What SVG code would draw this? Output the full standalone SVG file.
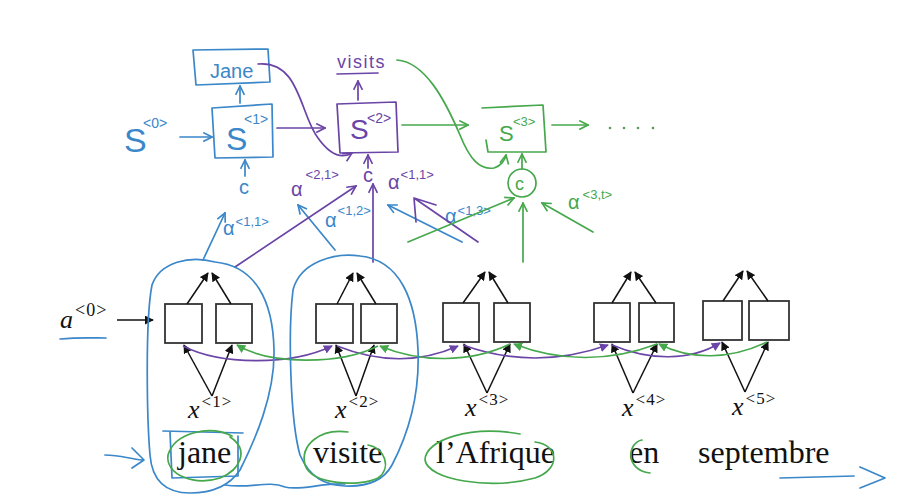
<svg xmlns="http://www.w3.org/2000/svg" width="904" height="498" viewBox="0 0 904 498">
<defs>
<style>
.bx{fill:#fff;stroke:#333;stroke-width:1.8}
.pl{fill:none;stroke:#111;stroke-width:1.5}
.pp{fill:none;stroke:#6a44a6;stroke-width:1.6}
.pg{fill:none;stroke:#46a84c;stroke-width:1.6}
.hb{fill:none;stroke:#3a87c9;stroke-width:1.7;stroke-linecap:round;stroke-linejoin:round}
.hp{fill:none;stroke:#6a44a6;stroke-width:1.7;stroke-linecap:round;stroke-linejoin:round}
.hg{fill:none;stroke:#46a84c;stroke-width:1.7;stroke-linecap:round;stroke-linejoin:round}
.ser{font-family:"Liberation Serif","DejaVu Serif",serif;fill:#111}
.xl{font-family:"Liberation Serif","DejaVu Serif",serif;font-size:26px;fill:#111}
.hw{font-family:"Liberation Sans","DejaVu Sans",sans-serif}
.tb{fill:#3a87c9}.tp{fill:#6a44a6}.tg{fill:#46a84c}
</style>
<marker id="ak" viewBox="0 0 10 10" refX="9" refY="5" markerWidth="9" markerHeight="9" markerUnits="userSpaceOnUse" orient="auto"><path d="M0,0 L10,5 L0,10 z" fill="#111"/></marker>
<marker id="apf" viewBox="0 0 10 10" refX="9" refY="5" markerWidth="9" markerHeight="9" markerUnits="userSpaceOnUse" orient="auto"><path d="M0,0 L10,5 L0,10 z" fill="#6a44a6"/></marker>
<marker id="agf" viewBox="0 0 10 10" refX="9" refY="5" markerWidth="9" markerHeight="9" markerUnits="userSpaceOnUse" orient="auto"><path d="M0,0 L10,5 L0,10 z" fill="#46a84c"/></marker>
<marker id="mb" viewBox="0 0 10 10" refX="9" refY="5" markerWidth="11" markerHeight="11" markerUnits="userSpaceOnUse" orient="auto"><path d="M1,1 L9,5 L1,9" fill="none" stroke="#3a87c9" stroke-width="1.5"/></marker>
<marker id="mp" viewBox="0 0 10 10" refX="9" refY="5" markerWidth="11" markerHeight="11" markerUnits="userSpaceOnUse" orient="auto"><path d="M1,1 L9,5 L1,9" fill="none" stroke="#6a44a6" stroke-width="1.5"/></marker>
<marker id="mg" viewBox="0 0 10 10" refX="9" refY="5" markerWidth="11" markerHeight="11" markerUnits="userSpaceOnUse" orient="auto"><path d="M1,1 L9,5 L1,9" fill="none" stroke="#46a84c" stroke-width="1.5"/></marker>
</defs>
<rect width="904" height="498" fill="#fff"/>

<!-- printed encoder -->
<g id="step1">
<rect class="bx" x="165" y="304" width="37" height="39"/><rect class="bx" x="216" y="304" width="36" height="39"/>
<text class="xl" x="188" y="418"><tspan font-style="italic">x</tspan><tspan dx="2" dy="-11" font-size="17" letter-spacing="1">&lt;1&gt;</tspan></text>
</g>
<g id="step2">
<rect class="bx" x="316" y="304" width="37" height="39"/><rect class="bx" x="361" y="304" width="36" height="39"/>
<text class="xl" x="335" y="418"><tspan font-style="italic">x</tspan><tspan dx="2" dy="-11" font-size="17" letter-spacing="1">&lt;2&gt;</tspan></text>
</g>
<g id="step3">
<rect class="bx" x="443" y="303" width="36" height="39"/><rect class="bx" x="494" y="303" width="36" height="39"/>
<text class="xl" x="465" y="416"><tspan font-style="italic">x</tspan><tspan dx="2" dy="-11" font-size="17" letter-spacing="1">&lt;3&gt;</tspan></text>
</g>
<g id="step4">
<rect class="bx" x="594" y="303" width="36" height="39"/><rect class="bx" x="639" y="303" width="35" height="39"/>
<text class="xl" x="622" y="416"><tspan font-style="italic">x</tspan><tspan dx="2" dy="-11" font-size="17" letter-spacing="1">&lt;4&gt;</tspan></text>
</g>
<g id="step5">
<rect class="bx" x="703" y="301" width="39" height="39"/><rect class="bx" x="749" y="301" width="40" height="39"/>
<text class="xl" x="732" y="415"><tspan font-style="italic">x</tspan><tspan dx="2" dy="-11" font-size="17" letter-spacing="1">&lt;5&gt;</tspan></text>
</g>
<g id="a0">
<text class="xl" x="60" y="328" font-size="28"><tspan font-style="italic">a</tspan><tspan dx="2" dy="-12" font-size="18" letter-spacing="1">&lt;0&gt;</tspan></text>
</g>
<g id="words" class="ser" font-size="32">
<text x="178" y="463">jane</text>
<text x="313" y="463">visite</text>
<text x="436" y="463">l’Afrique</text>
<text x="629" y="463">en</text>
<text x="698" y="463">septembre</text>
</g>

<!-- printed connectors -->
<g id="printed-connectors">
<path class="pl" marker-end="url(#ak)" d="M117 320 L153 320"/>
<path class="pl" marker-end="url(#ak)" d="M187 304 L208 273"/><path class="pl" marker-end="url(#ak)" d="M231 304 L212 273"/>
<path class="pl" marker-end="url(#ak)" d="M212 396 L184 345"/><path class="pl" marker-end="url(#ak)" d="M212 396 L232 345"/>
<path class="pl" marker-end="url(#ak)" d="M337 304 L353 273"/><path class="pl" marker-end="url(#ak)" d="M376 304 L357 273"/>
<path class="pl" marker-end="url(#ak)" d="M356 396 L336 345"/><path class="pl" marker-end="url(#ak)" d="M356 396 L374 345"/>
<path class="pl" marker-end="url(#ak)" d="M463 303 L485 272"/><path class="pl" marker-end="url(#ak)" d="M508 303 L489 272"/>
<path class="pl" marker-end="url(#ak)" d="M487 393 L464 344"/><path class="pl" marker-end="url(#ak)" d="M487 393 L510 344"/>
<path class="pl" marker-end="url(#ak)" d="M612 303 L631 272"/><path class="pl" marker-end="url(#ak)" d="M656 303 L635 272"/>
<path class="pl" marker-end="url(#ak)" d="M633 393 L612 344"/><path class="pl" marker-end="url(#ak)" d="M633 393 L657 344"/>
<path class="pl" marker-end="url(#ak)" d="M723 301 L743 271"/><path class="pl" marker-end="url(#ak)" d="M768 301 L747 271"/>
<path class="pl" marker-end="url(#ak)" d="M745 392 L722 342"/><path class="pl" marker-end="url(#ak)" d="M745 392 L768 342"/>
<path class="pp" marker-end="url(#apf)" d="M183 346 C220 365 290 366 332 346"/>
<path class="pp" marker-end="url(#apf)" d="M337 346 C380 363 420 363 458 346"/>
<path class="pp" marker-end="url(#apf)" d="M463 345 C510 362 560 362 608 345"/>
<path class="pp" marker-end="url(#apf)" d="M612 345 C650 361 690 361 720 343"/>
<path class="pg" marker-end="url(#agf)" d="M378 346 C340 365 270 365 237 345"/>
<path class="pg" marker-end="url(#agf)" d="M510 344 C470 363 420 363 380 346"/>
<path class="pg" marker-end="url(#agf)" d="M657 344 C610 362 560 362 514 344"/>
<path class="pg" marker-end="url(#agf)" d="M767 342 C730 360 690 360 659 344"/>
</g>

<!-- handwritten decoder nodes -->
<g id="s0"><text class="hw tb" x="124" y="152" font-size="34">S</text><text class="hw tb" x="143" y="128" font-size="14">&lt;0&gt;</text></g>
<g id="s1">
<path class="hb" d="M212 108 L272 104 L273 157 L215 158 Z"/>
<text class="hw tb" x="226" y="150" font-size="32">S</text><text class="hw tb" x="244" y="124" font-size="14">&lt;1&gt;</text>
</g>
<g id="jane-out">
<path class="hb" d="M193 50 L268 49 L270 82 L196 85 Z"/>
<text class="hw tb" x="210" y="78" font-size="20">Jane</text>
</g>
<g id="c1"><text class="hw tb" x="239" y="194" font-size="20">c</text></g>
<g id="s2">
<path class="hp" d="M337 104 L396 102 L398 152 L340 153 Z"/>
<text class="hw tp" x="350" y="139" font-size="28">S</text><text class="hw tp" x="367" y="123" font-size="14">&lt;2&gt;</text>
</g>
<g id="visits-out">
<text class="hw tp" x="337" y="68" font-size="18" letter-spacing="1.5">visits</text>
<path class="hp" d="M337 74 L378 73"/>
</g>
<g id="c2"><text class="hw tp" x="363" y="182" font-size="20">c</text></g>
<g id="s3">
<path class="hg" d="M482 108 L543 105 L546 152 L488 152 L486 140"/>
<text class="hw tg" x="499" y="141" font-size="22">S</text><text class="hw tg" x="513" y="126" font-size="13">&lt;3&gt;</text>
</g>
<g id="c3">
<circle class="hg" cx="522" cy="183" r="14"/>
<text class="hw tg" x="515" y="190" font-size="18">c</text>
</g>
<g id="ellipsis">
<circle cx="610" cy="128" r="1.3" fill="#5a9a5e"/><circle cx="624" cy="128" r="1.3" fill="#5a9a5e"/><circle cx="638" cy="128" r="1.3" fill="#5a9a5e"/><circle cx="653" cy="128" r="1.3" fill="#5a9a5e"/>
</g>

<!-- attention labels -->
<g id="alpha-labels" class="hw">
<text class="tb" x="223" y="235" font-size="20">α<tspan dx="1" dy="-9" font-size="13">&lt;1,1&gt;</tspan></text>
<text class="tp" x="291" y="196" font-size="20">α<tspan dx="3" dy="-17" font-size="13">&lt;2,1&gt;</tspan></text>
<text class="tb" x="325" y="227" font-size="20">α<tspan dx="1" dy="-12" font-size="13">&lt;1,2&gt;</tspan></text>
<text class="tp" x="388" y="189" font-size="20">α<tspan dx="1" dy="-10" font-size="13">&lt;1,1&gt;</tspan></text>
<text class="tb" x="445" y="223" font-size="20">α<tspan dx="1" dy="-8" font-size="13">&lt;1,3&gt;</tspan></text>
<text class="tg" x="568" y="209" font-size="20">α<tspan dx="3" dy="-10" font-size="13">&lt;3,t&gt;</tspan></text>
</g>

<!-- handwritten connectors -->
<g id="hand-connectors">
<path class="hb" marker-end="url(#mb)" d="M180 137 L212 137"/>
<path class="hb" marker-end="url(#mb)" d="M240 103 L240 86"/>
<path class="hb" marker-end="url(#mb)" d="M245 176 L245 160"/>
<path class="hb" marker-end="url(#mb)" d="M203 260 L225 213"/>
<path class="hb" marker-end="url(#mb)" d="M335 250 L298 205"/>
<path class="hb" marker-end="url(#mb)" d="M462 242 L388 205"/>
<path class="hp" marker-end="url(#mp)" d="M277 128 L325 128"/>
<path class="hp" marker-end="url(#mp)" d="M258 64 C300 60 300 115 318 138 C328 152 340 160 352 153"/>
<path class="hp" marker-end="url(#mp)" d="M358 100 L358 81"/>
<path class="hp" marker-end="url(#mp)" d="M368 168 L368 155"/>
<path class="hp" marker-end="url(#mp)" d="M235 267 L356 186"/>
<path class="hp" marker-end="url(#mp)" d="M373 262 L373 184"/>
<path class="hp" d="M478 242 L414 198 L416 222 M414 198 L436 205"/>
<path class="hg" marker-end="url(#mg)" d="M402 125 L468 125"/>
<path class="hg" marker-end="url(#mg)" d="M552 125 L588 125"/>
<path class="hg" marker-end="url(#mg)" d="M397 60 C425 62 445 100 460 135 C470 160 480 170 494 168 C501 166 505 160 506 155"/>
<path class="hg" marker-end="url(#mg)" d="M522 169 L522 154"/>
<path class="hg" marker-end="url(#mg)" d="M408 242 L514 198"/>
<path class="hg" marker-end="url(#mg)" d="M523 262 L523 203"/>
<path class="hg" marker-end="url(#mg)" d="M593 232 L542 203"/>
</g>

<!-- handwritten annotations -->
<g id="annotations">
<path class="hb" d="M60 339 C80 337 95 338 106 338"/>
<path class="hb" d="M215 262 C190 255 160 262 152 285 C145 320 147 420 150 455 C152 480 165 493 190 493 C215 493 230 485 240 470 C255 440 275 395 274 350 C273 300 255 266 215 262"/>
<path class="hb" d="M360 256 C335 252 300 262 293 290 C288 330 290 420 300 455 C310 478 325 485 345 486 C370 487 385 478 392 465 C405 440 420 400 418 350 C416 300 400 260 360 256"/>
<path class="hb" d="M225 485 C250 489 268 480 285 487 C300 491 320 483 345 484"/>
<path class="hb" d="M163 431 L243 433 M170 432 L172 478 L238 476 L238 436"/>
<path class="hb" d="M105 455 C120 455 130 459 142 460 M132 448 L144 460 L132 468"/>
<path class="hb" d="M780 478 L854 476 M860 467 L885 478 L860 488"/>
<path class="hg" d="M232 436 C210 425 175 432 168 455 C165 475 195 486 220 478 C240 470 250 450 230 437"/>
<path class="hg" d="M348 432 C320 428 300 445 305 465 C312 485 360 487 378 478 C392 468 385 448 368 445"/>
<path class="hg" d="M520 434 C470 425 425 440 425 460 C428 480 490 490 535 478 C560 470 560 445 535 442"/>
<path class="hg" d="M642 440 C628 442 624 470 650 473"/>
</g>
</svg>
